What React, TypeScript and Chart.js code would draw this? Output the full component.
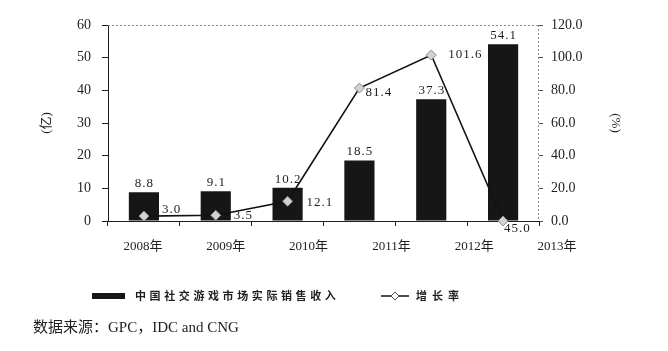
import React, { useEffect, useRef } from 'react';
import { Chart, registerables } from 'chart.js';

Chart.register(...registerables);

const categories = ['2008年', '2009年', '2010年', '2011年', '2012年', '2013年'];
const revenue = [8.8, 9.1, 10.2, 18.5, 37.3, 54.1];
const growthRate = [3.0, 3.5, 12.1, 81.4, 101.6, 0.0];
const growthLabels = ['3.0', '3.5', '12.1', '81.4', '101.6', '45.0'];
const leftTicks = [0, 10, 20, 30, 40, 50, 60];
const rightTicks = [0, 20, 40, 60, 80, 100, 120];
const revenueName = '中国社交游戏市场实际销售收入';
const growthName = '增长率';
const sourceText = '数据来源：GPC，IDC and CNG';

// label placement styles (pixel offsets from each point)
const lineLabelOffsets = [[18, -7], [18, 0], [19, 1], [6, 5], [17, 0], [1, 8]];

const SERIF = '"Liberation Serif", "Noto Sans CJK SC", serif';
const INK = '#1e1e1e';

const annotate = {
  id: 'annotate',
  afterDatasetsDraw(chart: any) {
    const ctx = chart.ctx;
    const { left, right, top, bottom } = chart.chartArea;
    ctx.save();
    // dashed top / right frame
    ctx.strokeStyle = '#8c8c8c';
    ctx.lineWidth = 1;
    ctx.setLineDash([2, 2]);
    ctx.beginPath();
    ctx.moveTo(left, top + 0.5);
    ctx.lineTo(right, top + 0.5);
    ctx.moveTo(right - 0.5, top);
    ctx.lineTo(right - 0.5, bottom);
    ctx.stroke();
    ctx.setLineDash([]);

    // bar value labels
    ctx.font = `13px ${SERIF}`;
    ctx.fillStyle = INK;
    (ctx as any).letterSpacing = '1px';
    ctx.textAlign = 'center';
    ctx.textBaseline = 'bottom';
    chart.getDatasetMeta(0).data.forEach((bar: any, i: number) => {
      ctx.fillText(revenue[i].toFixed(1), bar.x + 0.5, bar.y - 2);
    });

    // line value labels
    ctx.textAlign = 'left';
    ctx.textBaseline = 'middle';
    chart.getDatasetMeta(1).data.forEach((pt: any, i: number) => {
      const [dx, dy] = lineLabelOffsets[i];
      ctx.fillText(growthLabels[i], pt.x + dx, pt.y + dy);
    });

    // category labels (spread as in the source figure)
    (ctx as any).letterSpacing = '0px';
    const xs = chart.scales.x;
    const x0 = xs.getPixelForValue(0);
    const step = (xs.getPixelForValue(1) - x0) * 1.153;
    ctx.font = `13px ${SERIF}`;
    ctx.textAlign = 'center';
    ctx.textBaseline = 'middle';
    categories.forEach((c, i) => {
      ctx.fillText(c, x0 - 1 + i * step, xs.top + 26);
    });
    ctx.restore();
  },
};

export default function App() {
  const ref = useRef<HTMLCanvasElement | null>(null);

  useEffect(() => {
    if (!ref.current) return;
    const chart = new Chart(ref.current, {
      type: 'bar',
      data: {
        labels: categories,
        datasets: [
          {
            type: 'bar',
            label: revenueName,
            data: revenue,
            backgroundColor: '#161616',
            borderColor: '#222',
            borderWidth: 0,
            barPercentage: 0.42,
            categoryPercentage: 1,
            yAxisID: 'y',
            order: 1,
          } as any,
          {
            type: 'line',
            label: growthName,
            data: growthRate,
            borderColor: '#111',
            borderWidth: 1.6,
            pointStyle: 'rectRot',
            pointRadius: 5,
            pointBackgroundColor: '#d2d2d2',
            pointBorderColor: '#8a8a8a',
            pointBorderWidth: 1,
            yAxisID: 'y1',
            clip: false,
            order: 0,
            tension: 0,
          } as any,
        ],
      },
      options: {
        responsive: false,
        animation: false,
        layout: { padding: { left: 8, right: 0, top: 25, bottom: 90 } },
        plugins: {
          legend: { display: false },
          tooltip: { enabled: false },
        },
        scales: {
          x: {
            type: 'category',
            offset: true,
            grid: {
              offset: true,
              drawOnChartArea: false,
              tickLength: 5,
              color: INK,
            },
            border: { color: INK, width: 1 },
            ticks: { display: false },
            afterFit: (s: any) => {
              s.height = 40;
            },
          },
          y: {
            position: 'left',
            min: 0,
            max: 60,
            afterBuildTicks: (s: any) => {
              s.ticks = leftTicks.map((v) => ({ value: v }));
            },
            grid: { drawOnChartArea: false, tickLength: 6, color: INK },
            border: { color: INK, width: 1 },
            ticks: {
              padding: 11,
              color: INK,
              font: { family: SERIF, size: 14 },
              callback: (v: any) => String(v),
            },
            title: {
              display: true,
              text: '(亿)',
              color: INK,
              font: { family: SERIF, size: 13 },
              padding: { top: 31, bottom: 0 },
            },
            afterFit: (s: any) => {
              s.width = 100;
            },
          },
          y1: {
            position: 'right',
            min: 0,
            max: 120,
            afterBuildTicks: (s: any) => {
              s.ticks = rightTicks.map((v) => ({ value: v }));
            },
            grid: { drawOnChartArea: false, tickLength: 4, color: '#555' },
            border: { display: false },
            ticks: {
              padding: 8,
              color: INK,
              font: { family: SERIF, size: 14 },
              callback: (v: any) => Number(v).toFixed(1),
            },
            title: {
              display: true,
              text: '(%)',
              color: INK,
              font: { family: SERIF, size: 13 },
              padding: { top: 45, bottom: 0 },
            },
            afterFit: (s: any) => {
              s.width = 129;
            },
          },
        },
      },
      plugins: [annotate],
    } as any);
    return () => chart.destroy();
  }, []);

  const textBase: React.CSSProperties = {
    position: 'absolute',
    fontFamily: SERIF,
    color: INK,
    whiteSpace: 'nowrap',
  };

  return (
    <div style={{ position: 'absolute', left: 0, top: 0, width: 668, height: 351, background: '#fff' }}>
      <canvas ref={ref} width={668} height={351} style={{ position: 'absolute', left: 0, top: 0 }} />
      <div style={{ position: 'absolute', left: 92, top: 293, width: 33, height: 6, background: '#161616' }} />
      <div
        style={{
          ...textBase,
          left: 135,
          top: 289,
          fontSize: 11,
          lineHeight: '14px',
          letterSpacing: '3.6px',
          fontWeight: 'bold',
        }}
      >
        {revenueName}
      </div>
      <svg width={30} height={12} style={{ position: 'absolute', left: 380, top: 290 }}>
        <line x1={1} y1={6} x2={29} y2={6} stroke="#111" strokeWidth={1.5} />
        <polygon points="15,2 19,6 15,10 11,6" fill="#fff" stroke="#555" strokeWidth={1} />
      </svg>
      <div
        style={{
          ...textBase,
          left: 416,
          top: 289,
          fontSize: 11,
          lineHeight: '14px',
          letterSpacing: '5px',
          fontWeight: 'bold',
        }}
      >
        {growthName}
      </div>
      <div style={{ ...textBase, left: 33, top: 318, fontSize: 15, lineHeight: '18px' }}>{sourceText}</div>
    </div>
  );
}
